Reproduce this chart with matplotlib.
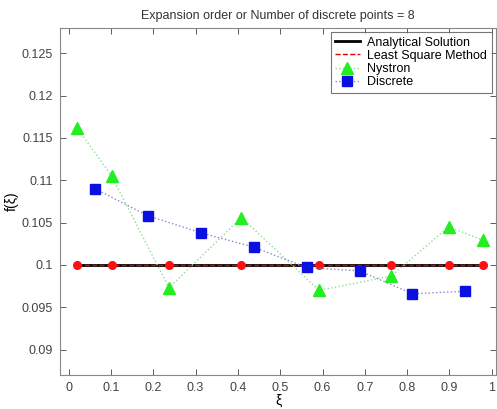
import matplotlib
matplotlib.use("Agg")
import matplotlib.pyplot as plt
from matplotlib.ticker import FixedLocator

plt.rcParams["font.family"] = ["Liberation Sans", "DejaVu Sans"]

# 8-point nodes (Gauss) and midpoints
x_nodes = [0.0199, 0.1017, 0.2372, 0.4083, 0.5917, 0.7628, 0.8983, 0.9801]
analytical = [0.1, 0.1, 0.1, 0.1, 0.1, 0.1, 0.1, 0.1]
least_sq = [0.1, 0.1, 0.1, 0.1, 0.1, 0.1, 0.1, 0.1]
nystron = [0.1162, 0.1105, 0.0973, 0.1056, 0.0970, 0.0987, 0.1045, 0.1029]
x_mid = [0.0625, 0.1875, 0.3125, 0.4375, 0.5625, 0.6875, 0.8125, 0.9375]
discrete = [0.1090, 0.1058, 0.1038, 0.1021, 0.0997, 0.0993, 0.0966, 0.0969]

xticks = [0, 0.1, 0.2, 0.3, 0.4, 0.5, 0.6, 0.7, 0.8, 0.9, 1]
xticklabels = ["0", "0.1", "0.2", "0.3", "0.4", "0.5", "0.6", "0.7", "0.8", "0.9", "1"]
yticks = [0.09, 0.095, 0.1, 0.105, 0.11, 0.115, 0.12, 0.125]
yticklabels = ["0.09", "0.095", "0.1", "0.105", "0.11", "0.115", "0.12", "0.125"]

fig = plt.figure(figsize=(4.97, 4.09), dpi=100)
ax = fig.add_axes([0.121, 0.083, 0.877, 0.849])

ax.plot(x_nodes, analytical, color="black", linewidth=2.0,
        label="Analytical Solution", zorder=3)
ax.plot(x_nodes, least_sq, color="#e00000", linestyle="--", linewidth=1.0,
        label="Least Square Method", zorder=4)
# red node markers on the least-square curve (not in legend)
ax.plot(x_nodes, least_sq, linestyle="none", marker="o", markersize=5.5,
        markerfacecolor="#ff1010", markeredgecolor="#ff1010", zorder=4)
ax.plot(x_nodes, nystron, color="#8fdc8f", linestyle=":", linewidth=1.0,
        marker="^", markersize=9, markerfacecolor="#22ee22",
        markeredgecolor="#22ee22", label="Nystron", zorder=5)
ax.plot(x_mid, discrete, color="#8888cc", linestyle=":", linewidth=1.0,
        marker="s", markersize=6.5, markerfacecolor="#0a10e0",
        markeredgecolor="#0a10e0", label="Discrete", zorder=5)

ax.set_xlim(-0.02, 1.01)
ax.set_ylim(0.087, 0.128)
ax.xaxis.set_major_locator(FixedLocator(xticks))
ax.set_xticklabels(xticklabels)
ax.yaxis.set_major_locator(FixedLocator(yticks))
ax.set_yticklabels(yticklabels)

ax.tick_params(direction="in", top=True, right=True, length=4, width=0.6,
               labelsize=9, colors="#444444", pad=5)
for s in ax.spines.values():
    s.set_color("#888888")
    s.set_linewidth(0.8)

ax.set_title("Expansion order or Number of discrete points = 8",
             fontsize=9, color="#333333", pad=6)
ax.set_xlabel("\u03be", fontsize=10, labelpad=0)
ax.set_ylabel("f(\u03be)", fontsize=10, labelpad=2)

leg = ax.legend(loc="upper right", fontsize=9, frameon=True, fancybox=False,
                borderpad=0.35, labelspacing=0.1, handlelength=2.0,
                handletextpad=0.6, borderaxespad=0.35)
leg.get_frame().set_edgecolor("#555555")
leg.get_frame().set_linewidth(0.8)

fig.savefig("out.png", dpi=100, facecolor="white")
